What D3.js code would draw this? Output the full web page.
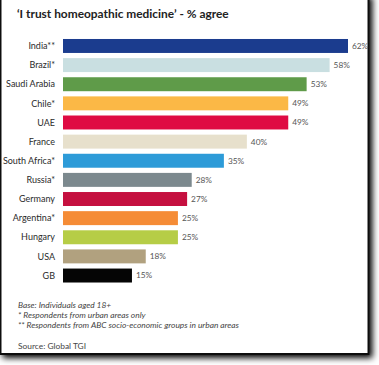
<!DOCTYPE html>
<html><head><meta charset="utf-8">
<script src="https://cdn.jsdelivr.net/npm/d3@7"></script>
<style>
body{margin:0;background:#fff;}
svg{display:block;font-family:Lato,"Open Sans",sans-serif;}
</style></head>
<body><svg id="c" width="379" height="365"></svg>
<script>
const countries = ["India**","Brazil*","Saudi Arabia","Chile*","UAE","France","South Africa*","Russia*","Germany","Argentina*","Hungary","USA","GB"];
const values = [62,58,53,49,49,40,35,28,27,25,25,18,15];
const colors = ["#1b3c8e","#c9dfe1","#5f9b49","#fbb846","#df0b43","#e7e0cc","#2d9bd8","#7c898e","#c5103f","#f58c36","#b6cd46","#b1a17f","#050505"];
const title = "\u2018I trust homeopathic medicine\u2019 - % agree";
const notes = ["Base:  Individuals aged 18+","* Respondents from urban areas only","** Respondents from ABC socio-economic groups in urban areas"];
const source = "Source:  Global TGI";

const svg = d3.select("#c");
const defs = svg.append("defs");
const f = defs.append("filter").attr("id","sh").attr("x","-5%").attr("y","-5%").attr("width","115%").attr("height","115%");
f.append("feGaussianBlur").attr("in","SourceAlpha").attr("stdDeviation",3);
f.append("feOffset").attr("dx",3).attr("dy",3).attr("result","b");
const fm = f.append("feMerge"); fm.append("feMergeNode").attr("in","b"); fm.append("feMergeNode").attr("in","SourceGraphic");

svg.append("rect").attr("x",0.5).attr("y",-5).attr("width",368).attr("height",359)
  .attr("fill","#fff").attr("stroke","#111").attr("stroke-width",2).attr("filter","url(#sh)");

svg.append("text").attr("x",17).attr("y",18).attr("font-weight","bold").attr("font-size",11.9)
  .attr("fill","#222").text(title);

const x = d3.scaleLinear().domain([0,62]).range([63,348]);
const y = d3.scaleBand().domain(countries).range([36.5,285]).paddingInner(0.27).paddingOuter(0.13);

const g = svg.append("g");
g.selectAll("rect.bar").data(countries).join("rect").attr("class","bar")
  .attr("x",x(0)).attr("y",d=>y(d)).attr("width",(d,i)=>x(values[i])-x(0)).attr("height",y.bandwidth())
  .attr("fill",(d,i)=>colors[i]);

g.selectAll("text.lab").data(countries).join("text").attr("class","lab")
  .attr("x",55).attr("y",d=>y(d)+y.bandwidth()/2).attr("dy","0.35em").attr("text-anchor","end")
  .attr("font-size",9).attr("fill","#2a2a2a").text(d=>d);

g.selectAll("text.val").data(countries).join("text").attr("class","val")
  .attr("x",(d,i)=>x(values[i])+4).attr("y",d=>y(d)+y.bandwidth()/2).attr("dy","0.35em")
  .attr("font-size",8.3).attr("fill","#555").text((d,i)=>values[i]+"%");

svg.selectAll("text.note").data(notes).join("text").attr("class","note")
  .attr("x",18).attr("y",(d,i)=>308+i*9.8).attr("font-size",8.4).attr("font-style","italic").attr("fill","#444").text(d=>d);
svg.append("text").attr("x",18).attr("y",349).attr("font-size",8.4).attr("fill","#444").text(source);
</script></body></html>
